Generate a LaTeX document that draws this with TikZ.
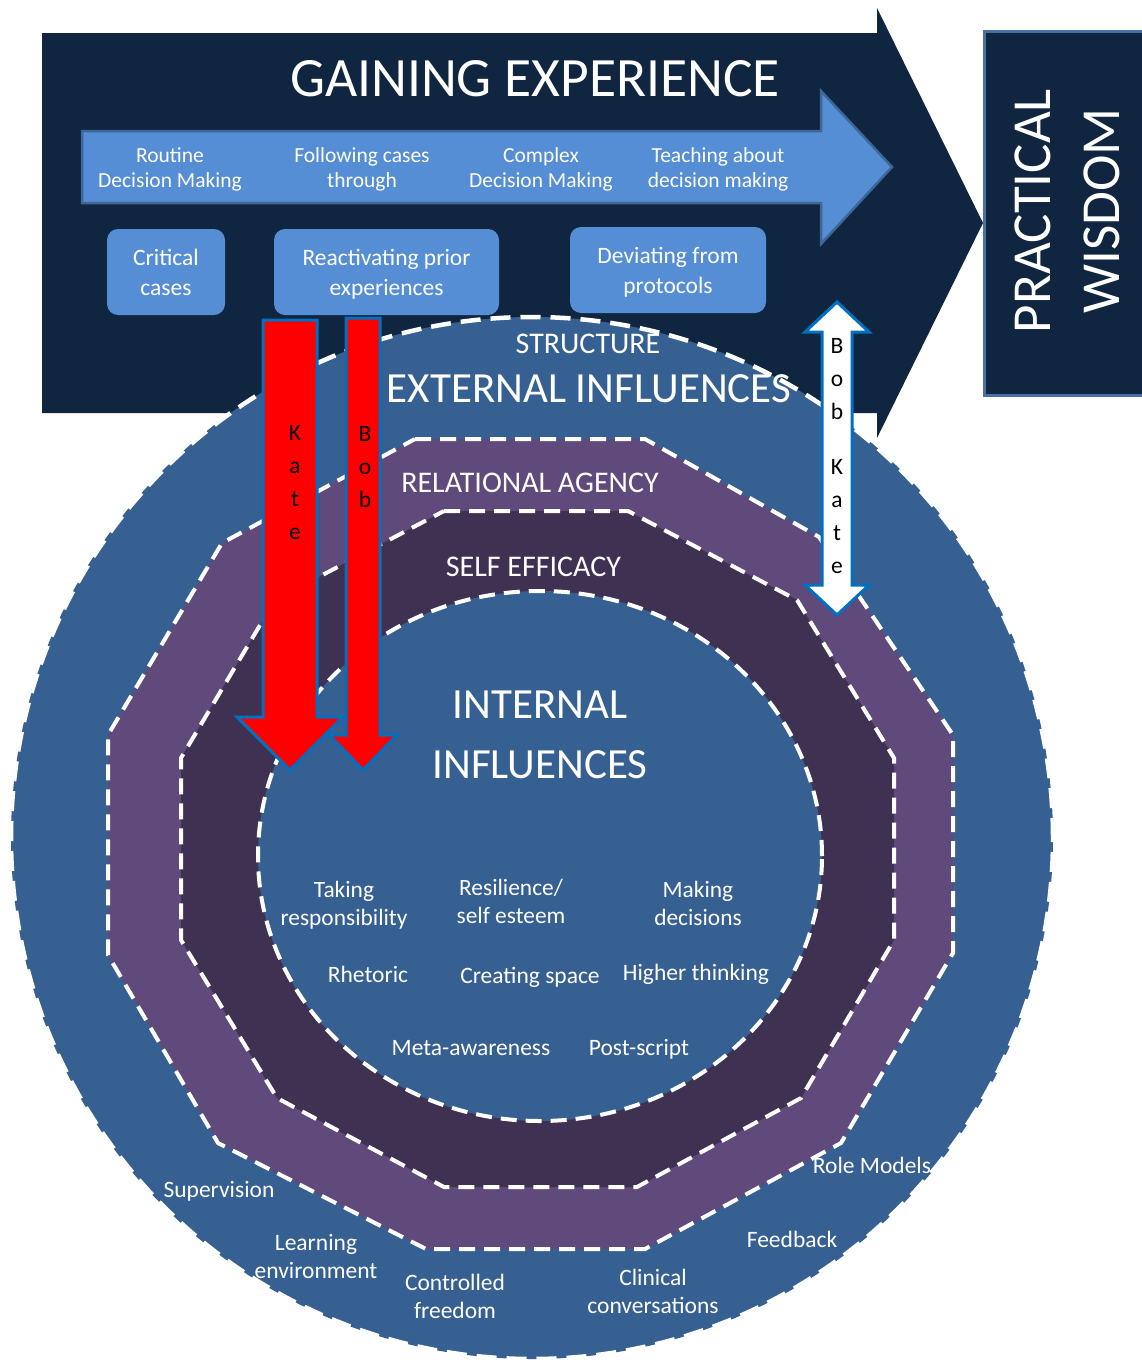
\documentclass[tikz,border=0pt]{standalone}
\usepackage{fontspec}
\setmainfont{Carlito}
\definecolor{navy}{HTML}{10253F}
\definecolor{steel}{HTML}{376092}
\definecolor{purp}{HTML}{604A7B}
\definecolor{dpurp}{HTML}{3F3151}
\definecolor{lblue}{HTML}{558ED5}
\definecolor{edgeblue}{HTML}{3E6699}
\definecolor{pwedge}{HTML}{4A70A3}
\definecolor{arrowedge}{HTML}{0070C0}
\newcommand{\myfs}[2]{\fontsize{#1}{#2}\selectfont}
\newcommand{\ml}[1]{\begin{tabular}[t]{@{}c@{}}#1\end{tabular}}
\newcommand{\lowered}[1]{\raisebox{-2pt}[\height][\depth]{#1}}
\tikzset{
  dashw/.style={draw=white, line width=4pt, dash pattern=on 16pt off 9pt},
  dashc/.style={draw=white, line width=4.5pt, dash pattern=on 20pt off 10pt},
  wtxt/.style={text=white, inner sep=0pt, anchor=base},
  btxt/.style={text=black, inner sep=0pt, anchor=base, font=\myfs{23.5}{33}},
  smalltxt/.style={wtxt, font=\myfs{21.5}{25}},
  labtxt/.style={wtxt, font=\myfs{23.5}{28.5}},
  boxtxt/.style={fill=lblue, rounded corners=11pt, text=white, inner sep=0pt, font=\myfs{23.5}{30}},
  bandtxt/.style={wtxt, font=\myfs{30}{36}},
  bigtxt/.style={wtxt, font=\myfs{43}{60}},
  redarrow/.style={fill=red, draw=arrowedge, line width=3pt},
  whitearrow/.style={fill=white, draw=arrowedge, line width=3pt}
}
\begin{document}
\begin{tikzpicture}[x=1pt,y=-1pt]
\useasboundingbox (0,0) rectangle (1142,1360);
% big navy arrow
\fill[navy] (42,33) -- (877,33) -- (877,8) -- (983,223) -- (877,438) -- (877,413) -- (42,413) -- cycle;
% light blue arrow
\draw[fill=lblue, draw=edgeblue, line width=2.5pt] (82,131) -- (821,131) -- (821,91) -- (892,167) -- (821,244) -- (821,203) -- (82,203) -- cycle;
\node[wtxt, font=\myfs{55.5}{66}] (gain) at (535,96) {GAINING EXPERIENCE};
\node[smalltxt] (rdm) at (170,162) {\ml{Routine\\Decision Making}};
\node[smalltxt] (fct) at (362,162) {\ml{Following cases\\through}};
\node[smalltxt] (cdm) at (541,162) {\ml{Complex\\Decision Making}};
\node[smalltxt] (tdm) at (718,162) {\ml{Teaching about\\decision making}};
% boxes
\node[boxtxt, minimum width=118pt, minimum height=86pt] (crit) at (166,272) {\lowered{\ml{Critical\\cases}}};
\node[boxtxt, minimum width=225pt, minimum height=86pt] (react) at (386.5,272) {\lowered{\ml{Reactivating prior\\experiences}}};
\node[boxtxt, minimum width=196pt, minimum height=86pt] (dev) at (668,270) {\lowered{\ml{Deviating from\\protocols}}};
% practical wisdom box
\draw[fill=navy, draw=pwedge, line width=3pt] (984,31) rectangle (1147,395);
\node[wtxt, rotate=90, font=\myfs{55}{69}] (pw) at (1050,211) {\ml{PRACTICAL\\WISDOM}};
% outer circle
\draw[fill=steel, dashc] (532,838) circle[radius=521pt];
% relational agency band
\draw[fill=purp, dashw] (415,439) -- (645,439) -- (819,537) -- (953,735) -- (953,953) -- (841,1143) -- (645,1249) -- (426,1249) -- (218,1143) -- (108,955) -- (108,735) -- (222,543) -- cycle;
% self efficacy band
\draw[fill=dpurp, dashw] (444,511) -- (628,511) -- (797,600) -- (894,758) -- (894,940) -- (801,1098) -- (637,1187) -- (444,1187) -- (277,1098) -- (181,940) -- (181,758) -- (275,600) -- cycle;
% inner ellipse
\draw[fill=steel, dashw] (540,856) ellipse[x radius=282pt, y radius=265pt];
% ring titles
\node[bandtxt] (struct) at (588,353) {STRUCTURE};
\node[wtxt, font=\myfs{43}{50}] (ext) at (589,402) {EXTERNAL INFLUENCES};
\node[bandtxt] (rel) at (530,492) {RELATIONAL AGENCY};
\node[bandtxt] (self) at (533.5,576) {SELF EFFICACY};
\node[bigtxt] (int) at (540,718) {\ml{INTERNAL\\INFLUENCES}};
% internal influences items
\node[labtxt, font=\myfs{23.4}{28}] (take) at (344,897) {\ml{Taking\\responsibility}};
\node[labtxt, font=\myfs{23.4}{28}] (resil) at (511,895) {\ml{Resilience/\\self esteem}};
\node[labtxt, font=\myfs{23.4}{28}] (make) at (698,897) {\ml{Making\\decisions}};
\node[labtxt] (rhet) at (368,982) {Rhetoric};
\node[labtxt] (creat) at (530,983) {Creating space};
\node[labtxt] (high) at (696,980) {Higher thinking};
\node[labtxt] (meta) at (471,1055) {Meta-awareness};
\node[labtxt] (post) at (639,1055) {Post-script};
% external influences items
\node[labtxt] (sup) at (219,1197) {Supervision};
\node[labtxt] (learn) at (316,1250) {\ml{Learning\\environment}};
\node[labtxt] (ctrl) at (455,1290) {\ml{Controlled\\freedom}};
\node[labtxt] (clin) at (653,1285) {\ml{Clinical\\conversations}};
\node[labtxt] (feed) at (792,1247) {Feedback};
\node[labtxt] (role) at (872,1173) {Role Models};
% red arrows
\draw[redarrow] (263,320) -- (317,320) -- (317,717) -- (343,717) -- (290,770) -- (237,717) -- (263,717) -- cycle;
\draw[redarrow] (346,318) -- (380,318) -- (380,735) -- (397,735) -- (363,770) -- (329,735) -- (346,735) -- cycle;
\node[btxt] (kate) at (295,440) {\ml{K\\a\\t\\e}};
\node[btxt] (bob) at (365,441.5) {\ml{B\\o\\b}};
% white double arrow
\draw[whitearrow] (837,302) -- (869,332) -- (852,332) -- (852,585) -- (869,585) -- (837,615) -- (805,585) -- (822,585) -- (822,332) -- (805,332) -- cycle;
\node[btxt] (bobkate) at (837,353.5) {\ml{B\\o\\b\\[21.5pt]K\\a\\t\\e}};
\end{tikzpicture}
\end{document}
